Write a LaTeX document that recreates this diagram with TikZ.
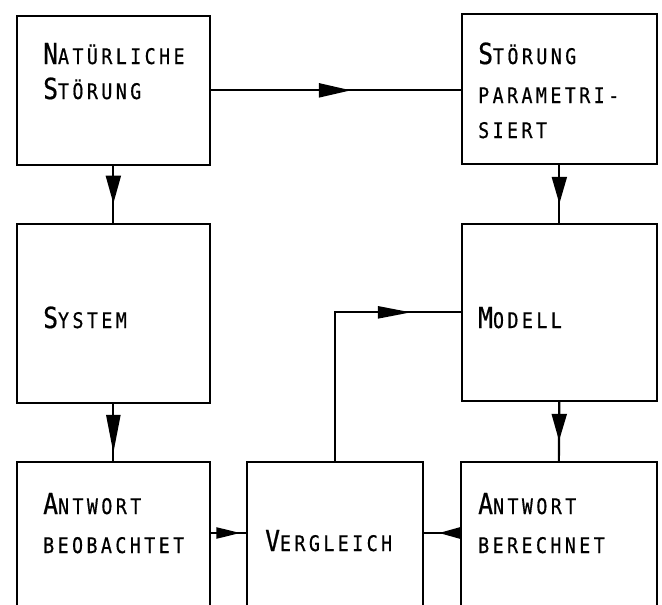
\documentclass[tikz,border=0pt]{standalone}
\usepackage{fontspec}
\newfontfamily\letfont[LetterSpace=16,FakeStretch=0.85,FakeBold=0.6]{DejaVu Sans Mono}
\usetikzlibrary{decorations.markings,arrows.meta}
\newcommand\smallsz{\fontsize{21.5}{21.5}\selectfont}
\newcommand\bigsz{\fontsize{29}{29}\selectfont}
\newcommand\capword[2]{{\bigsz #1}#2}
\tikzset{
  box/.style={draw, line width=1.7pt, rectangle, inner sep=0pt, anchor=north west},
  conn/.style={line width=2.2pt},
  lbl/.style={anchor=base west, inner sep=0pt, font=\letfont\smallsz},
  midarrow/.style n args={3}{postaction={decorate}, decoration={markings,
      mark=at position #1 with {\arrow{Triangle[length=#2, width=#3]}}}}
}
\begin{document}
\begin{tikzpicture}[x=1pt,y=-1pt]
\useasboundingbox (0,0) rectangle (662,605);
\clip (0,0) rectangle (662,605);
\fill[white] (0,0) rectangle (662,605);
% boxes
\node[box, minimum width=193pt, minimum height=149pt] (A) at (16,15) {};
\node[box, minimum width=195pt, minimum height=150pt] (B) at (461,13) {};
\node[box, minimum width=193pt, minimum height=179pt] (S) at (16,223) {};
\node[box, minimum width=195pt, minimum height=177pt] (M) at (461,223) {};
\node[box, minimum width=193pt, minimum height=170pt] (Ab) at (16,461) {};
\node[box, minimum width=176pt, minimum height=170pt] (V) at (246,461) {};
\node[box, minimum width=196pt, minimum height=170pt] (Ar) at (460,461) {};
% texts
\node[lbl] (tA1) at (43,64) {\capword{N}{ATÜRLICHE}};
\node[lbl] (tA2) at (43,99) {\capword{S}{TÖRUNG}};
\node[lbl] (tB1) at (478,64) {\capword{S}{TÖRUNG}};
\node[lbl] (tB2) at (478,103) {PARAMETRI-};
\node[lbl] (tB3) at (478,138) {SIERT};
\node[lbl] (tS) at (43,328) {\capword{S}{YSTEM}};
\node[lbl] (tM) at (478,328) {\capword{M}{ODELL}};
\node[lbl] (tAb1) at (43,514) {\capword{A}{NTWORT}};
\node[lbl] (tAb2) at (43,553) {BEOBACHTET};
\node[lbl] (tV) at (265,551) {\capword{V}{ERGLEICH}};
\node[lbl] (tAr1) at (478,514) {\capword{A}{NTWORT}};
\node[lbl] (tAr2) at (478,553) {BERECHNET};
% connectors
\coordinate (yh) at (0,533);
\draw[conn, midarrow={0.56}{32pt}{14pt}] (A.east) -- (A.east -| B.west);
\draw[conn, midarrow={0.66}{28pt}{15pt}] (A.south) -- (S.north);
\draw[conn, midarrow={0.67}{27pt}{15pt}] (B.south) -- (M.north);
\draw[conn, midarrow={0.86}{38pt}{14pt}] (S.south) -- (Ab.north);
\draw[conn, midarrow={0.66}{27pt}{15pt}] (M.south) -- (Ar.north);
\draw[conn, midarrow={0.818}{33pt}{12pt}] (V.north) |- (M.west);
\draw[conn, midarrow={0.84}{24pt}{11pt}] (Ab.east |- yh) -- (V.west |- yh);
\draw[conn, midarrow={0.58}{21pt}{11pt}] (Ar.west |- yh) -- (V.east |- yh);
\end{tikzpicture}
\end{document}
